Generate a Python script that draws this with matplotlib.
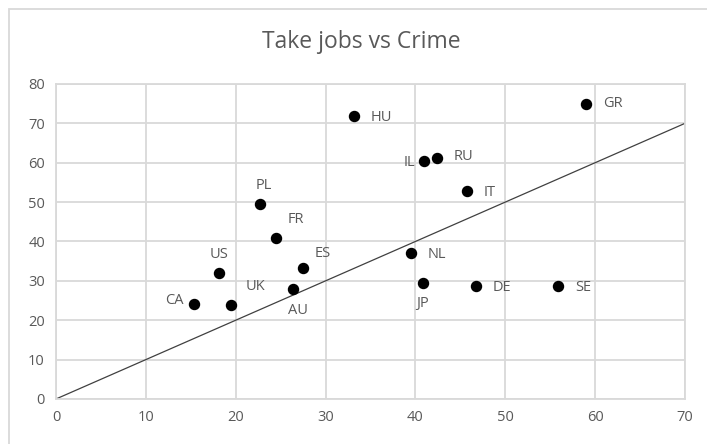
import matplotlib
matplotlib.use('Agg')
import matplotlib.pyplot as plt
from matplotlib.patches import Rectangle

plt.rcParams['font.family'] = ['Open Sans', 'DejaVu Sans']

# country codes, "take jobs" score (x) and crime score (y)
countries = ['CA', 'UK', 'US', 'AU', 'ES', 'PL', 'FR', 'HU', 'GR',
             'IL', 'RU', 'IT', 'NL', 'JP', 'DE', 'SE']
take_jobs = [15.4, 19.5, 18.1, 26.4, 27.5, 22.7, 24.5, 33.2, 59.0,
             40.9, 42.4, 45.7, 39.5, 40.8, 46.7, 55.9]
crime = [24.2, 23.9, 32.0, 27.8, 33.2, 49.6, 40.9, 71.9, 75.0,
         60.4, 61.2, 52.8, 37.0, 29.4, 28.6, 28.6]

# where each label sits relative to its point (offset in points, ha, va)
label_pos = {
    'CA': (-8, 2, 'right', 'center'),
    'UK': (10, 8, 'left', 'bottom'),
    'US': (0, 8, 'center', 'bottom'),
    'AU': (-4, -10, 'left', 'top'),
    'ES': (8, 5, 'left', 'bottom'),
    'PL': (3, 8, 'center', 'bottom'),
    'FR': (8, 8, 'left', 'bottom'),
    'HU': (12, -1, 'left', 'center'),
    'GR': (12, 0, 'left', 'center'),
    'IL': (-6, -1, 'right', 'center'),
    'RU': (12, 1, 'left', 'center'),
    'IT': (12, -1, 'left', 'center'),
    'NL': (12, -1, 'left', 'center'),
    'JP': (0, -9, 'center', 'top'),
    'DE': (12, -1, 'left', 'center'),
    'SE': (12, -1, 'left', 'center'),
}

fig = plt.figure(figsize=(7.07, 4.44), dpi=100)
ax = fig.add_axes([0.0792, 0.1014, 0.8898, 0.7096])

grid_col = '#d9d9d9'
text_col = '#595959'

ax.plot([0, 70], [0, 70], color='#404040', lw=0.9, zorder=2)
ax.scatter(take_jobs, crime, s=52, color='black', zorder=3)

for c, x, y in zip(countries, take_jobs, crime):
    dx, dy, ha, va = label_pos[c]
    ax.annotate(c, (x, y), xytext=(dx, dy), textcoords='offset points',
                ha=ha, va=va, fontsize=10.5, color=text_col)

ax.set_xlim(0, 70)
ax.set_ylim(0, 80)
ax.set_xticks(range(0, 71, 10))
ax.set_yticks(range(0, 81, 10))
ax.grid(True, color=grid_col, lw=1.3)
ax.set_axisbelow(True)
for side in ['left', 'right', 'top', 'bottom']:
    ax.spines[side].set_color(grid_col)
    ax.spines[side].set_linewidth(1.3)
ax.tick_params(length=0, labelsize=10.5, labelcolor=text_col, pad=8)

fig.text(0.511, 0.905, 'Take jobs vs Crime', ha='center', va='center',
         fontsize=16.5, color=text_col)

# chart frame
fig.patches.append(Rectangle((9 / 707, -0.05), 1.2, 1 - 9 / 444 + 0.05,
                             transform=fig.transFigure, fill=False,
                             edgecolor=grid_col, lw=1.3))

fig.savefig('out.png', dpi=100)
